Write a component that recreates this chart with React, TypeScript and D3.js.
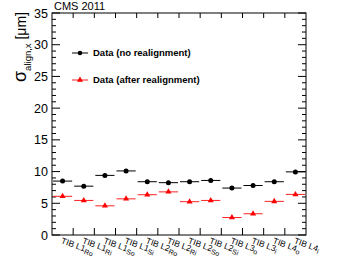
import * as d3 from "d3";

const categories = ["L1Ro", "L1Ri", "L1So", "L1Si", "L2Ro", "L2Ri", "L2So", "L2Si", "L3o", "L3i", "L4o", "L4i"];
const noRealign = [8.5, 7.7, 9.4, 10.1, 8.4, 8.25, 8.4, 8.6, 7.4, 7.8, 8.4, 9.95];
const afterRealign = [6.1, 5.45, 4.6, 5.7, 6.35, 6.8, 5.25, 5.45, 2.75, 3.35, 5.3, 6.4];
const yTicks = [0, 5, 10, 15, 20, 25, 30, 35];

const W = 340;
const H = 271;
const m = { left: 52, right: 306, top: 13, bottom: 235 };
const font = "'Liberation Sans', Arial, Helvetica, sans-serif";

export default function App() {
  const x = d3.scaleLinear().domain([0, categories.length]).range([m.left, m.right]);
  const y = d3.scaleLinear().domain([0, 35]).range([m.bottom, m.top]);
  const minor = d3.range(0, 36, 1).filter((v) => v % 5 !== 0);
  const tri = d3.symbol().type(d3.symbolTriangle).size(16)() ?? "";

  return (
    <svg width={W} height={H} style={{ position: "absolute", left: 0, top: 0, background: "#fff" }} fontFamily={font}>
      <text x={54} y={10} fontSize={11}>CMS 2011</text>

      {/* frame */}
      <rect x={m.left} y={m.top} width={m.right - m.left} height={m.bottom - m.top} fill="none" stroke="#000" strokeWidth={1} />

      {/* y ticks, left and right */}
      {yTicks.map((t) => (
        <g key={t}>
          <line x1={m.left} x2={m.left + 8} y1={y(t)} y2={y(t)} stroke="#000" />
          <line x1={m.right} x2={m.right - 8} y1={y(t)} y2={y(t)} stroke="#000" />
          <text x={48} y={y(t)} dy="0.36em" textAnchor="end" fontSize={12.5}>{t}</text>
        </g>
      ))}
      {minor.map((t) => (
        <g key={t}>
          <line x1={m.left} x2={m.left + 4} y1={y(t)} y2={y(t)} stroke="#000" />
          <line x1={m.right} x2={m.right - 4} y1={y(t)} y2={y(t)} stroke="#000" />
        </g>
      ))}

      {/* x ticks at bin edges */}
      {d3.range(1, categories.length).map((i) => (
        <g key={i}>
          <line x1={x(i)} x2={x(i)} y1={m.bottom} y2={m.bottom - 7} stroke="#000" />
          <line x1={x(i)} x2={x(i)} y1={m.top} y2={m.top + 5} stroke="#000" />
        </g>
      ))}

      {/* bin labels */}
      {categories.map((c, i) => (
        <text key={c} transform={`translate(${x(i + 0.5) - 2},${m.bottom + 8}) rotate(20)`} fontSize={8.5}>
          TIB L{c.slice(1, 2)}
          <tspan dy={2} fontSize={7}>{c.slice(2)}</tspan>
        </text>
      ))}

      {/* y axis title */}
      <text transform={`translate(26,${m.top - 1}) rotate(-90)`} textAnchor="end" fontSize={14}>
        <tspan fontSize={18}>σ</tspan>
        <tspan dy={5} fontSize={9.5}>align,x</tspan>
        <tspan dy={-5}> [μm]</tspan>
      </text>

      {/* after realignment series */}
      {afterRealign.map((v, i) => (
        <g key={i}>
          <line x1={x(i) + 1} x2={x(i + 1) - 1} y1={y(v)} y2={y(v)} stroke="#ff2020" strokeWidth={1} />
          <path d={tri} transform={`translate(${x(i + 0.5)},${y(v)})`} fill="#ff0000" />
        </g>
      ))}

      {/* no realignment series */}
      {noRealign.map((v, i) => (
        <g key={i}>
          <line x1={x(i) + 1} x2={x(i + 1) - 1} y1={y(v)} y2={y(v)} stroke="#000" strokeWidth={1} />
          <circle cx={x(i + 0.5)} cy={y(v)} r={2.5} fill="#000" />
        </g>
      ))}

      {/* legend */}
      <line x1={72} x2={88} y1={53} y2={53} stroke="#000" />
      <circle cx={80} cy={53} r={2.3} fill="#000" />
      <text x={93} y={53} dy="0.35em" fontSize={9.5} fontWeight="bold">Data (no realignment)</text>
      <line x1={72} x2={88} y1={80} y2={80} stroke="#ff2020" />
      <path d={tri} transform="translate(80,80)" fill="#ff0000" />
      <text x={93} y={80} dy="0.35em" fontSize={9.5} fontWeight="bold">Data (after realignment)</text>
    </svg>
  );
}
